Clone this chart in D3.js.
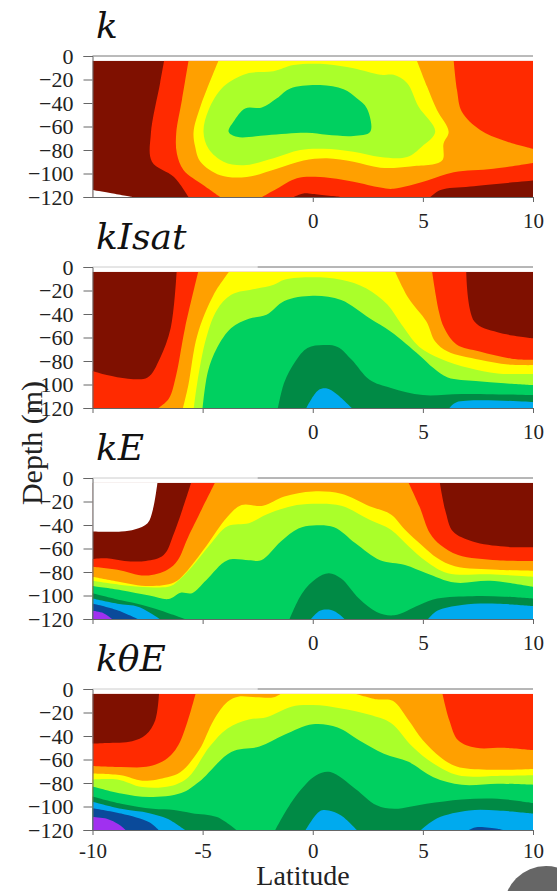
<!DOCTYPE html>
<html>
<head>
<meta charset="utf-8">
<script src="https://cdn.jsdelivr.net/npm/d3@7"></script>
<style>
html,body{margin:0;padding:0;background:#fff;}
svg{display:block;}
text{font-family:"Liberation Serif",serif;fill:#222;}
.title{font-family:"DejaVu Serif",serif;font-style:italic;fill:#111;}
</style>
</head>
<body>
<div id="chart"></div>
<script>
//Data: contour bands, [colour index, [[lat,depth],...]], painted in order
const bandColors = ['#7f1000','#ff2a00','#ffa000','#ffff00','#aaff2a','#00d060','#008a45','#00aaee','#0a4a9a','#a030f0'];
const WHITE = 10;
const latTicks = [-10,-5,0,5,10];
const depthTicks = [0,-20,-40,-60,-80,-100,-120];
const topDepth = -4;

const kBands = [
  [0,[[-10,-4],[10,-4],[10,-120],[-10,-120]]],
  [WHITE,[[-10,-114],[-9.2,-116.6],[-8.2,-120],[-10,-120]]],
  [1,[[-6.75,-4],[10,-4],[10,-106],[7.15,-111],[5.8,-114],[5.34,-120],[1.25,-120],[0,-117.5],[-0.42,-117],[-0.87,-120],[-5.64,-120],[-6.3,-103],[-7.3,-90],[-7.35,-66],[-6.93,-23]]],
  [2,[[-5.64,-4],[6.4,-4],[6.55,-29],[6.77,-47.5],[7.6,-63],[8.67,-72],[10,-79],[10,-91],[8.2,-96],[6.4,-99],[5.2,-106],[3.67,-113],[3.07,-112],[1.85,-107],[0.34,-103],[-0.72,-104],[-1.63,-113],[-2.3,-120],[-4.2,-120],[-4.96,-110],[-5.87,-97],[-6.17,-83],[-6.2,-66],[-5.94,-37.5]]],
  [3,[[-4.28,-4],[4.73,-4],[5.19,-26],[5.64,-46],[6.17,-64.5],[5.94,-74.5],[5.87,-89],[4.43,-94],[3.07,-95],[1.85,-90],[0.64,-87],[-0.42,-89],[-1.63,-96],[-3,-103],[-4.2,-101.5],[-5.1,-90],[-5.34,-77],[-5.41,-64.5],[-5.1,-43]]],
  [4,[[-0.87,-7.7],[0.64,-7],[1.85,-10.5],[3.07,-16],[3.67,-16],[4.28,-23],[4.8,-43],[5.56,-64.5],[4.96,-77],[4.28,-86],[3.07,-86],[1.85,-81.5],[0.5,-79],[-0.57,-80],[-1.78,-87],[-3.14,-93],[-4.05,-90],[-4.73,-79],[-4.96,-64.5],[-4.73,-46],[-4.05,-26],[-3,-15],[-1.78,-13]]],
  [5,[[-3.82,-64.5],[-3.6,-56],[-3.07,-44.6],[-2.31,-43.8],[-1.63,-36],[-1.02,-27.6],[0.34,-24.7],[1.4,-28.4],[2,-36],[2.46,-44.6],[2.61,-64.5],[1.85,-68],[0.64,-67],[-0.27,-65.4],[-2.08,-67.4],[-3.44,-68.8]]]
];

const kIsatBands = [
  [0,[[-10,-4],[10,-4],[10,-120],[-10,-120]]],
  [1,[[-6.18,-4],[6.97,-4],[7.34,-46.4],[8.39,-55.6],[10,-60.7],[10,-120],[-10,-120],[-10,-88.6],[-9.35,-92],[-8.39,-95],[-7.5,-94],[-6.94,-77.8],[-6.45,-52]]],
  [2,[[-5.2,-4],[5.42,-4],[5.73,-38],[5.97,-52],[6.53,-66],[7.58,-72],[9.03,-78],[10,-79],[10,-120],[-7,-120],[-6.53,-112],[-6.2,-92],[-5.8,-52]]],
  [3,[[-3.8,-4],[3.74,-4],[4.35,-26.5],[5.16,-46.4],[5.56,-63.5],[6.13,-72],[7.58,-79],[8.87,-83],[10,-83.5],[10,-120],[-5.89,-120],[-5.65,-100.6],[-5.24,-58],[-4.5,-23.6]]],
  [4,[[-1.29,-10.8],[0,-8.8],[1.29,-10.8],[2.42,-18],[3.39,-32],[4.03,-49],[4.84,-68],[5.8,-78],[7.1,-86],[8.39,-90.6],[10,-91],[10,-120],[-5.4,-120],[-5.24,-98],[-4.84,-60.7],[-4.35,-36.5],[-3.7,-23.6],[-2.58,-18.5],[-1.77,-15]]],
  [5,[[0,-24.5],[-1.29,-29],[-2.1,-40.7],[-2.9,-44],[-3.7,-52],[-4.35,-69],[-4.76,-89],[-5,-120],[10,-120],[10,-100.6],[8.7,-99],[7.4,-97],[6.13,-94],[5.48,-86],[4.84,-75],[3.55,-55],[2.58,-43.6],[1.29,-28]]],
  [6,[[-1.58,-120],[-1.29,-98],[-0.8,-80.6],[-0.24,-69],[0.48,-66.4],[1.13,-68],[1.77,-79],[2.58,-96],[3.55,-103],[5,-109],[6.77,-108],[10,-109],[10,-120]]],
  [7,[[-0.29,-120],[0.24,-105],[0.65,-103.4],[1.05,-107.7],[1.77,-120]]],
  [7,[[6.2,-120],[6.53,-115],[10,-115],[10,-120]]]
];

const kEBands = [
  [0,[[-10,-4],[10,-4],[10,-120],[-10,-120]]],
  [WHITE,[[-10,-4],[-7.05,-4],[-7.26,-27],[-7.5,-38.5],[-8.06,-43.6],[-8.7,-45.6],[-10,-45.6]]],
  [1,[[-5.52,-4],[5.77,-4],[6.05,-30],[6.37,-45.6],[7.26,-54],[8.7,-58.4],[10,-59],[10,-120],[-10,-120],[-10,-69],[-9.35,-68.4],[-8.55,-70.6],[-7.58,-70.6],[-6.77,-65.5],[-6.3,-47]]],
  [2,[[-4.44,-4],[4.35,-4],[4.84,-24],[5.32,-47],[5.8,-57],[6.6,-65.5],[8.39,-70],[10,-70.6],[10,-120],[-10,-120],[-10,-75.5],[-8.87,-78],[-7.58,-83],[-6.6,-78],[-6.13,-70],[-5.65,-50]]],
  [3,[[-10,-84],[-8.87,-88],[-7.42,-92],[-6.3,-89],[-5.8,-81],[-4.84,-58],[-3.87,-33],[-3.23,-23],[-2.26,-23.6],[-1.29,-15.7],[0,-11.4],[1.29,-13.4],[2.58,-24],[3.55,-31],[4.19,-44],[5,-58],[5.65,-68],[6.45,-75],[8.39,-78],[10,-79],[10,-120],[-10,-120]]],
  [4,[[-10,-87.5],[-8.7,-91],[-7.42,-93],[-6.45,-92],[-6,-85.5],[-5.48,-75.5],[-4.68,-57],[-3.87,-41],[-2.9,-38.5],[-2.1,-31],[-0.97,-24],[0,-22],[1.29,-23.6],[2.58,-35.6],[3.55,-44],[4.35,-58],[5.16,-71],[6.13,-81],[8.06,-82],[10,-84],[10,-120],[-10,-120]]],
  [5,[[-10,-92],[-8.7,-95.5],[-7.42,-100],[-6.53,-103],[-6,-97.7],[-5.48,-98],[-4.84,-87],[-3.87,-70],[-2.9,-70],[-2.34,-70],[-1.45,-54],[-0.65,-43],[0,-40.5],[0.97,-42],[1.94,-55.6],[3.06,-70],[4.19,-74],[5.16,-81],[6.45,-89],[8.06,-87.5],[10,-92.6],[10,-120],[-10,-120]]],
  [6,[[-10,-98],[-8.7,-104],[-7.74,-108],[-6.94,-112.5],[-5.8,-120],[-10,-120]]],
  [6,[[-1.05,-120],[-0.48,-98],[0.16,-85.5],[0.73,-81],[1.29,-85.5],[2.1,-102.6],[2.9,-114],[3.7,-116.8],[4.84,-108],[5.65,-102.6],[7.26,-100.6],[8.7,-101],[10,-102.6],[10,-120]]],
  [7,[[-10,-102.6],[-8.87,-107],[-7.9,-109.7],[-6.94,-120],[-10,-120]]],
  [7,[[-0.08,-120],[0.32,-113],[0.73,-112],[1.13,-115],[1.45,-120]]],
  [7,[[5.24,-120],[5.65,-113],[6.77,-108],[8.39,-107],[10,-109],[10,-120]]],
  [8,[[-10,-106.8],[-8.87,-112.5],[-7.94,-120],[-10,-120]]],
  [9,[[-10,-113],[-9.5,-115],[-9.1,-120],[-10,-120]]]
];

const kThetaEBands = [
  [1,[[-10,-4],[10,-4],[10,-120],[-10,-120]]],
  [0,[[-10,-4],[-6.98,-4],[-7.15,-26.5],[-7.58,-39],[-8.2,-44.4],[-9.35,-45.9],[-10,-46.4]]],
  [2,[[-5.32,-4],[5.89,-4],[6.2,-26.5],[6.6,-43.6],[7.42,-50],[8.7,-50],[10,-52],[10,-120],[-10,-120],[-10,-65.5],[-8.7,-66.4],[-7.42,-65.8],[-6.6,-59],[-6.05,-46]]],
  [3,[[-3.87,-10.8],[-3.39,-6.5],[-2.58,-7],[-1.77,-7],[-1.45,-4],[1.94,-4],[2.9,-8.8],[3.63,-10],[4.35,-26.5],[5,-43.6],[5.8,-58],[6.53,-66],[7.9,-68.7],[10,-68],[10,-120],[-10,-120],[-10,-72],[-8.7,-73.5],[-7.74,-78],[-6.6,-75],[-6,-70.7],[-5.16,-52],[-4.5,-26.5]]],
  [4,[[-10,-77],[-8.87,-77],[-7.74,-83.5],[-6.45,-82.6],[-5.65,-75],[-4.68,-49],[-3.87,-33.6],[-2.9,-26],[-2.1,-24],[-0.97,-15],[0,-13.7],[1.29,-16.5],[2.58,-22],[3.55,-29],[4.52,-49],[5.48,-63.5],[6.6,-73.5],[8.39,-74],[10,-73.5],[10,-120],[-10,-120]]],
  [5,[[-10,-83],[-8.7,-89],[-7.42,-92],[-5.97,-88.6],[-5.16,-79],[-3.7,-53.6],[-2.42,-49],[-1.29,-39],[0,-30],[1.13,-32.8],[2.1,-43.6],[3.23,-55],[4.35,-62],[5.48,-75],[6.77,-81.5],[8.39,-80.6],[10,-81.5],[10,-120],[-10,-120]]],
  [6,[[-10,-91.5],[-8.7,-97.7],[-7.26,-102],[-6.3,-103],[-5.48,-105.7],[-4.35,-109],[-3.47,-120],[-10,-120]]],
  [6,[[-1.7,-120],[-0.8,-92],[0.16,-73.5],[0.8,-70.7],[1.94,-85],[2.9,-99],[3.7,-102],[5.16,-97.7],[6.77,-94],[8.39,-93.4],[10,-97],[10,-120]]],
  [7,[[-10,-96],[-8.7,-102],[-7.42,-105.7],[-6.6,-110.5],[-5.8,-120],[-10,-120]]],
  [7,[[-0.32,-120],[0.32,-104],[0.73,-103.4],[1.29,-107.7],[2,-120]]],
  [7,[[4.92,-120],[5.65,-110],[7.1,-103.4],[8.39,-103.4],[10,-106],[10,-120]]],
  [8,[[-10,-101.4],[-8.7,-106],[-7.42,-113.4],[-7,-120],[-10,-120]]],
  [8,[[7.1,-120],[7.42,-117.7],[8.39,-119],[8.63,-120]]],
  [9,[[-10,-109],[-9.35,-110.5],[-8.8,-115.4],[-8.5,-120],[-10,-120]]]
];

const panelTitles = ['k','kIsat','kE','k\u03b8E'];
const panelBands = [kBands,kIsatBands,kEBands,kThetaEBands];
const panelTops = [56,267,478,689];

const svg_width = 557;
const svg_height = 891;
const panel_height = 141;
const xScale = d3.scaleLinear().domain([-10,10]).range([92.5,533]);
const yScale = d3.scaleLinear().domain([0,-120]).range([0,panel_height]);

const svg = d3.select('#chart').append('svg')
  .attr('width',svg_width).attr('height',svg_height)
  .attr('viewBox',`0 0 ${svg_width} ${svg_height}`);

svg.append('clipPath').attr('id','plot-clip').append('rect')
  .attr('x',xScale(-10)).attr('y',yScale(topDepth))
  .attr('width',xScale(10)-xScale(-10)).attr('height',yScale(-120)-yScale(topDepth));

const bandLine = d3.line().x(d=>xScale(d[0])).y(d=>yScale(d[1]))
  .curve(d3.curveCatmullRomClosed.alpha(0.5));
//Doubling a point makes a sharp corner, so outlines stay straight along the plot edges
const onEdge = d => Math.abs(d[0])===10 || d[1]===-120 || d[1]===topDepth;
const outline = points => bandLine(points.flatMap(d=>onEdge(d) ? [d,d] : [d]));

panelBands.forEach((bands,i)=>{
  const g = svg.append('g').attr('transform',`translate(0,${panelTops[i]})`);

  //Filled contours
  g.append('g').attr('clip-path','url(#plot-clip)')
    .selectAll('path').data(bands).enter().append('path')
    .attr('d',d=>outline(d[1]))
    .attr('fill',d=>d[0]===WHITE ? '#fff' : bandColors[d[0]])
    .attr('stroke','none');

  //Top frame line, darker on the right as in the scan
  g.append('line').attr('x1',xScale(-10)).attr('x2',xScale(10)).attr('y1',0).attr('y2',0)
    .attr('stroke',i===0?'#777':'#ccc').attr('stroke-width',1);
  if(i>0){
    g.append('line').attr('x1',xScale(-2.5)).attr('x2',xScale(10)).attr('y1',0).attr('y2',0)
      .attr('stroke','#888').attr('stroke-width',1);
  }

  //Axes
  const yAxis = d3.axisLeft(yScale).tickValues(depthTicks).tickSize(9).tickPadding(10);
  const yAxisDraw = g.append('g').attr('transform',`translate(${xScale(-10)},0)`).call(yAxis);
  yAxisDraw.attr('font-family',null).attr('font-size',null);
  yAxisDraw.selectAll('text').style('font-size','22px').attr('fill','#222');
  yAxisDraw.selectAll('line').attr('stroke','#666');
  yAxisDraw.select('.domain').attr('stroke','#666');

  const shownTicks = i===3 ? latTicks : latTicks.slice(2);
  const xAxis = d3.axisBottom(xScale).tickValues(i===0 ? shownTicks : latTicks).tickSize(5)
    .tickPadding(i===3 ? 8 : 11)
    .tickSizeOuter(0)
    .tickFormat(d=>shownTicks.includes(d) ? d : '');
  const xAxisDraw = g.append('g').attr('transform',`translate(0,${panel_height})`).call(xAxis);
  xAxisDraw.attr('font-family',null).attr('font-size',null);
  xAxisDraw.selectAll('text').style('font-size','21px').attr('fill','#222');
  xAxisDraw.selectAll('line').attr('stroke','#666');
  xAxisDraw.select('.domain').attr('stroke','#666');

  //Panel title
  g.append('text').attr('class','title').attr('x',96).attr('y',-18)
    .style('font-size','36px').text(panelTitles[i]);
});

//Axis titles
svg.append('text').attr('transform','translate(42,443) rotate(-90)')
  .attr('text-anchor','middle').style('font-size','30px').text('Depth (m)');
svg.append('text').attr('x',303).attr('y',884.5)
  .attr('text-anchor','middle').style('font-size','28px').text('Latitude');

//Grey disc in the bottom corner of the screenshot
svg.append('circle').attr('cx',546).attr('cy',908).attr('r',42).attr('fill','#666');
</script>
</body>
</html>
